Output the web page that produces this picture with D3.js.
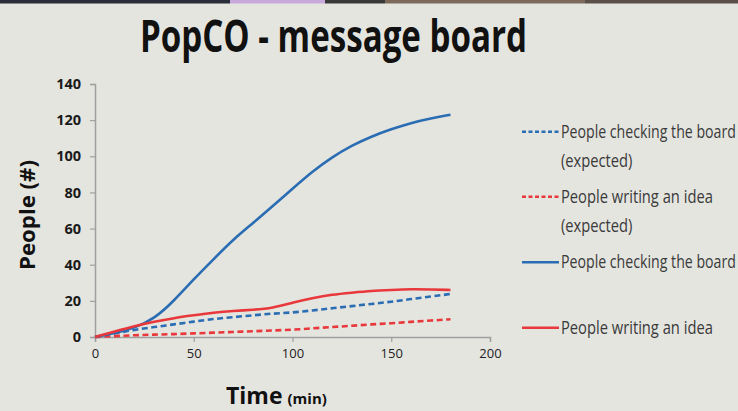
<!DOCTYPE html>
<html><head><meta charset="utf-8">
<script src="https://cdn.jsdelivr.net/npm/d3@7"></script>
<style>
html,body{margin:0;padding:0;background:#e5e5e0;}
svg{display:block;}
</style></head>
<body>
<svg id="chart" width="738" height="411"></svg>
<script>
const times = [0,10,20,30,40,50,60,70,80,90,100,110,120,130,140,150,160,170,180];
const checkingExpected = [0,2,4,5.5,7,8.5,10,11,12,13,13.5,14.7,15.9,17.1,18.3,19.5,21,22.4,23.8];
const writingExpected = [0,0.5,1,1.3,1.6,2,2.4,2.8,3.2,3.6,4,4.8,5.5,6.2,7,7.6,8.4,9.1,9.8];
const checkingActual = [0,2,5,10,20,32,43,54,63,72.5,82,91.5,99.5,106,111,115,118.5,121,123];
const writingActual = [0,3,6,8.5,10.5,12,13.5,14.5,15,16,19,21.5,23.5,24.5,25.5,26,26.5,26.3,26];
const xTicks = [0,50,100,150,200];
const yTicks = [0,20,40,60,80,100,120,140];
const seriesNames = ["People checking the board|(expected)","People writing an idea|(expected)","People checking the board","People writing an idea"];

const BLUE = "#2b6db3", RED = "#e8383b";
const series = [
  {name: seriesNames[0], values: checkingExpected, color: BLUE, dash: "6,3.5", ly: 131.7},
  {name: seriesNames[1], values: writingExpected, color: RED, dash: "6,3.5", ly: 196.7},
  {name: seriesNames[2], values: checkingActual, color: BLUE, dash: null, ly: 262.3},
  {name: seriesNames[3], values: writingActual, color: RED, dash: null, ly: 327.7}
];

const svg = d3.select("#chart");
svg.append("rect").attr("width",738).attr("height",411).attr("fill","#e5e5e0");
// photo strip at top
const strip = [[0,230,"#2a2d3a"],[230,95,"#c9a8dc"],[325,60,"#3b3a3a"],[385,200,"#7d6a5a"],[585,153,"#5b5049"]];
strip.forEach(s=>svg.append("rect").attr("x",s[0]).attr("y",0).attr("width",s[1]).attr("height",3.5).attr("fill",s[2]));

const x = d3.scaleLinear().domain([0,200]).range([95,490]);
const y = d3.scaleLinear().domain([0,140]).range([337,84]);

// title
svg.append("text").attr("x",140).attr("y",52)
  .attr("font-family","Open Sans").attr("font-weight","bold").attr("font-size",44)
  .attr("textLength",387).attr("lengthAdjust","spacingAndGlyphs")
  .attr("fill","#111").text("PopCO - message board");

// axes
const gx = svg.append("g").attr("transform","translate(0,337)")
  .call(d3.axisBottom(x).tickValues(xTicks).tickSize(5).tickPadding(7));
const gy = svg.append("g").attr("transform","translate(95,0)")
  .call(d3.axisLeft(y).tickValues(yTicks).tickSize(5).tickPadding(9));
[gx,gy].forEach(g=>{
  g.select(".domain").attr("stroke","#a0a0a0").attr("stroke-width",1.5);
  g.selectAll(".tick line").attr("stroke","#a0a0a0").attr("stroke-width",1.2);
  g.selectAll(".tick text").attr("font-family","Open Sans").attr("font-size",14.5)
    .attr("font-weight","bold").attr("fill","#1a1a1a");
});
gx.selectAll(".tick text").attr("font-weight","normal").attr("font-size",13).attr("fill","#222");

// axis labels
svg.append("text").attr("transform","translate(35,215) rotate(-90)")
  .attr("text-anchor","middle").attr("font-family","Open Sans").attr("font-weight","bold")
  .attr("font-size",22).attr("fill","#111")
  .attr("textLength",110).attr("lengthAdjust","spacingAndGlyphs").text("People (#)");
const xl = svg.append("text").attr("x",226).attr("y",404)
  .attr("font-family","Open Sans").attr("font-weight","bold").attr("fill","#111");
xl.append("tspan").attr("font-size",23).text("Time");
xl.append("tspan").attr("font-size",15).attr("dx",5).text("(min)");

// lines
const line = d3.line().x((d,i)=>x(times[i])).y(d=>y(d)).curve(d3.curveBasis);
series.forEach(s=>{
  svg.append("path").datum(s.values).attr("d",line)
    .attr("fill","none").attr("stroke",s.color).attr("stroke-width",2.6)
    .attr("stroke-dasharray",s.dash);
});

// legend (condensed via horizontal scale)
const lg = svg.append("g");
const texts = [];
series.forEach(s=>{
  lg.append("line").attr("x1",522).attr("x2",559).attr("y1",s.ly).attr("y2",s.ly)
    .attr("stroke",s.color).attr("stroke-width",2.6).attr("stroke-dasharray",s.dash ? "4,2.5" : null);
  s.name.split("|").forEach((t,k)=>{
    const tx = lg.append("text").attr("x",0).attr("y",0)
      .attr("font-family","Open Sans").attr("font-size",18.5).attr("fill","#3a3a3a")
      .text(t);
    texts.push({tx, yy: s.ly+6+k*29.5});
  });
});
const ref = texts.find(o=>o.tx.text()==="People writing an idea").tx.node().getComputedTextLength();
const sc = 152/ref;
texts.forEach(o=>{
  const w = o.tx.node().getComputedTextLength();
  const s2 = Math.min(sc, 175/w);
  o.tx.attr("transform",`translate(561,${o.yy}) scale(${s2},1)`);
});
</script>
</body></html>
